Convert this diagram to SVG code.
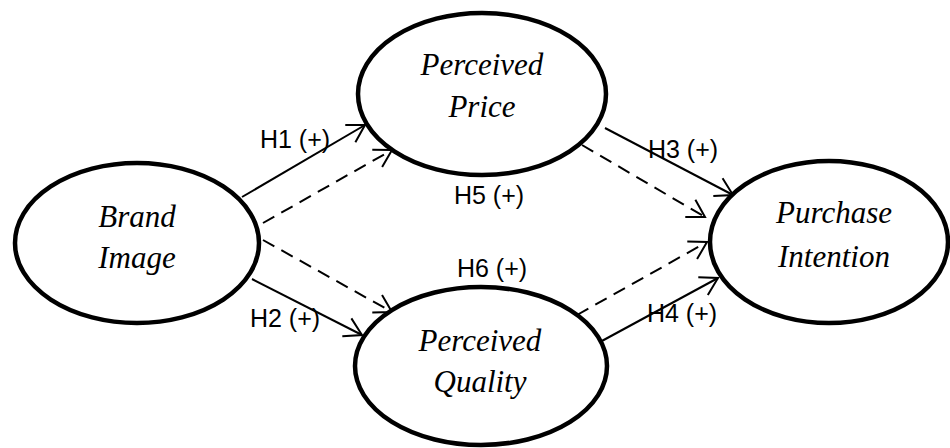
<svg xmlns="http://www.w3.org/2000/svg" width="950" height="448" viewBox="0 0 950 448">
<style>
.node ellipse{fill:#fff;stroke:#000;stroke-width:4.5}
.node text{font-family:"Liberation Serif","Times New Roman",serif;font-style:italic;font-size:31px;fill:#000;text-anchor:middle}
.conn line{stroke:#000;stroke-width:2;fill:none}
.conn .dash{stroke-dasharray:13 8}
.lbl{font-family:"Liberation Sans",Arial,sans-serif;font-size:25px;fill:#000;text-anchor:middle}
</style>
<defs>
<marker id="arr" markerUnits="userSpaceOnUse" viewBox="-22 -14 26 28" refX="0" refY="0" markerWidth="26" markerHeight="28" orient="auto" overflow="visible">
<path d="M-17,-10 L0,0 L-17,10" fill="none" stroke="#000" stroke-width="2"/>
</marker>
</defs>
<rect width="950" height="448" fill="#fff"/>
<g id="connectors" class="conn">
<line x1="242" y1="197" x2="365" y2="125" marker-end="url(#arr)"/>
<line class="dash" x1="263" y1="223" x2="392" y2="150" marker-end="url(#arr)"/>
<line class="dash" x1="263" y1="240" x2="392" y2="312" marker-end="url(#arr)"/>
<line x1="252" y1="279" x2="362" y2="335" marker-end="url(#arr)"/>
<line x1="605" y1="128" x2="733" y2="195" marker-end="url(#arr)"/>
<line class="dash" x1="582" y1="145" x2="705" y2="217" marker-end="url(#arr)"/>
<line class="dash" x1="577" y1="315" x2="707" y2="242" marker-end="url(#arr)"/>
<line x1="600" y1="342" x2="718" y2="278" marker-end="url(#arr)"/>
</g>
<g id="brand-image" class="node">
<ellipse cx="137" cy="243" rx="122" ry="80"/>
<text x="137" y="227">Brand</text>
<text x="137" y="268">Image</text>
</g>
<g id="perceived-price" class="node">
<ellipse cx="482" cy="94" rx="124" ry="81"/>
<text x="482" y="75">Perceived</text>
<text x="482" y="117">Price</text>
</g>
<g id="perceived-quality" class="node">
<ellipse cx="481" cy="366" rx="126" ry="79"/>
<text x="480" y="351">Perceived</text>
<text x="480" y="392">Quality</text>
</g>
<g id="purchase-intention" class="node">
<ellipse cx="829" cy="242" rx="119" ry="81"/>
<text x="834" y="223">Purchase</text>
<text x="834" y="267">Intention</text>
</g>
<g id="labels">
<text class="lbl" x="295" y="148">H1 (+)</text>
<text class="lbl" x="285" y="327">H2 (+)</text>
<text class="lbl" x="683" y="158">H3 (+)</text>
<text class="lbl" x="682" y="322">H4 (+)</text>
<text class="lbl" x="489" y="204">H5 (+)</text>
<text class="lbl" x="492" y="277">H6 (+)</text>
</g>
</svg>
